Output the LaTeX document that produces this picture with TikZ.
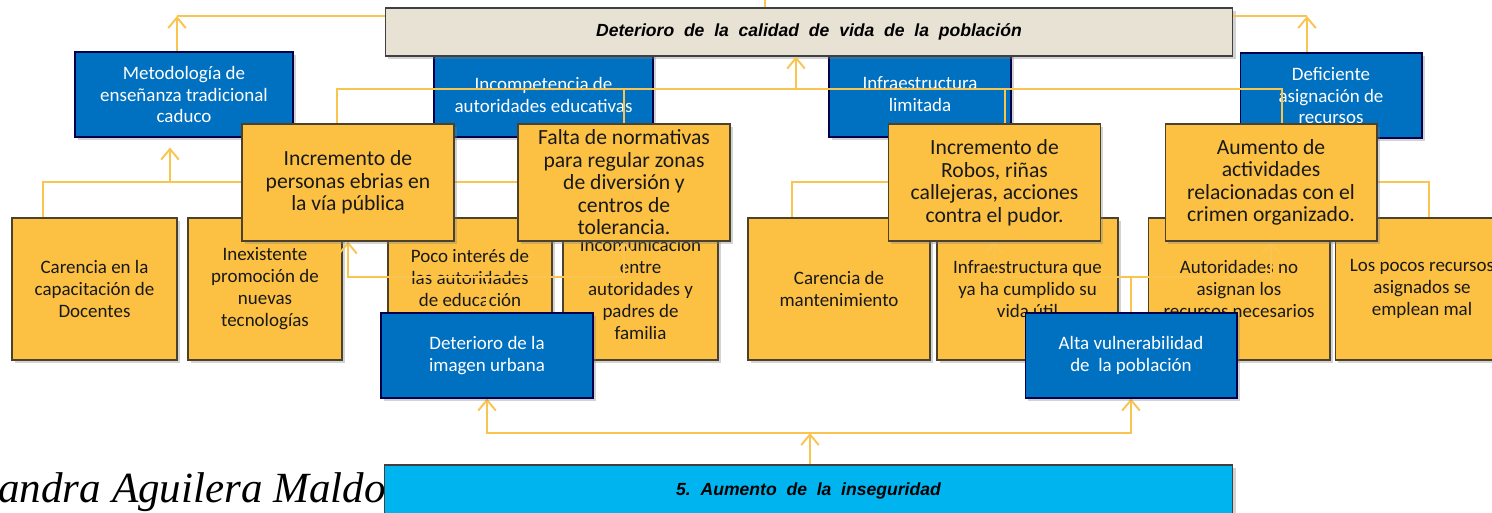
\documentclass[tikz,border=0pt]{standalone}
\usepackage{fontspec}
\setmainfont{Carlito}
\newfontfamily\titlefont{Liberation Sans}
\newfontfamily\firmafont{Liberation Serif}
\usepackage{tikz}
\usetikzlibrary{arrows.meta, positioning, calc, shadows}
\definecolor{boxyellow}{RGB}{252, 193, 66}
\definecolor{boxblue}{RGB}{0, 112, 192}
\definecolor{titlebg}{RGB}{232, 226, 212}
\definecolor{rootcyan}{RGB}{0, 180, 240}
\definecolor{linkcol}{RGB}{250, 196, 80}
\definecolor{edgecol}{RGB}{75, 65, 45}
\pgfdeclarelayer{lower}
\pgfdeclarelayer{wires}
\pgfsetlayers{lower,wires,main}

\begin{document}
\begin{tikzpicture}[
    x=0.02cm, y=-0.02cm,
    box/.style={rectangle, draw=edgecol, line width=0.6pt, inner sep=2pt, align=center,
        drop shadow={shadow xshift=1.5pt, shadow yshift=-1.5pt, opacity=0.35}},
    cause/.style={box, fill=boxyellow, text=black!90, minimum height=2.84cm, font=\fontsize{10.8}{12.5}\selectfont},
    keycause/.style={box, fill=boxyellow, text=black!90, minimum width=4.24cm, minimum height=2.34cm, font=\fontsize{12.3}{12.8}\selectfont},
    effect/.style={box, fill=boxblue, draw=black!70!blue, text=white, minimum height=1.7cm, font=\fontsize{10.8}{12.5}\selectfont},
    headline/.style={box, draw=black!75, minimum height=0.96cm, font=\titlefont\fontsize{10}{12}\selectfont\bfseries\itshape},
    link/.style={draw=linkcol, line width=1.1pt},
    arr/.style={link, -{Straight Barb[length=6pt, width=10pt]}}
]
\useasboundingbox (0,0) rectangle (1492,512);

\begin{pgfonlayer}{lower}
% causas (fila inferior)
\node[cause, minimum width=3.30cm] (capac) at (94.5,289) {Carencia en la\\capacitación de\\Docentes};
\node[cause, minimum width=3.08cm] (promo) at (265,289) {Inexistente\\promoción de\\nuevas\\tecnologías};
\node[cause, minimum width=3.28cm] (interes) at (470,289) {Poco interés de\\las autoridades\\de educación\\~};
\node[cause, minimum width=3.10cm] (comunic) at (640.5,289) {Incomunicación\\entre\\autoridades y\\padres de\\familia};
\node[cause, minimum width=3.64cm] (manten) at (839,289) {Carencia de\\mantenimiento};
\node[cause, minimum width=3.62cm] (vidautil) at (1027.5,289) {Infraestructura que\\ya ha cumplido su\\vida útil};
\node[cause, minimum width=3.64cm] (asignan) at (1239,289) {Autoridades no\\asignan los\\recursos necesarios};
\node[cause, minimum width=3.48cm] (mal) at (1422,289) {Los pocos recursos\\asignados se\\emplean mal};

% efectos
\node[effect, minimum width=4.36cm] (metodo) at (184,94.5) {Metodología de\\enseñanza tradicional\\caduco};
\node[effect, minimum width=4.38cm] (incomp) at (543.5,94.5) {Incompetencia de\\autoridades educativas};
\node[effect, minimum width=3.64cm] (infra) at (920,94.5) {Infraestructura\\limitada};
\node[effect, minimum width=3.64cm] (recur) at (1331,95.5) {Deficiente\\asignación de\\recursos};

\node[headline, fill=titlebg, minimum width=16.96cm] (calidad) at (809,32) {Deterioro\ \ de\ \ la\ \ calidad\ \ de\ \ vida\ \ de\ \ la\ \ población};

\coordinate (jtl) at (177,16);
\coordinate (jtr) at (1307,16);
\coordinate (jup) at (765,0);
\draw[link] (calidad.west |- jtl) -- (jtl);
\draw[arr] (metodo.north -| jtl) -- (jtl);
\draw[link] (calidad.east |- jtr) -- (jtr);
\draw[arr] (recur.north -| jtr) -- (jtr);
\draw[link] (calidad.north -| jup) -- (jup);

\coordinate (jcap) at (43,182);
\coordinate (jmet) at (170,182);
\coordinate (jinc) at (543,182);
\coordinate (jinf) at (920,182);
\coordinate (jrec) at (1331,182);
\draw[link] (capac.north -| jcap) -- (jcap) -- (jmet);
\draw[arr, shorten >=0.2cm] (jmet) -- (metodo.south -| jmet);
\draw[link] (jmet) -| (promo.north);
\draw[arr, shorten >=0.2cm] (jinc) -- (incomp.south);
\draw[link] (jinc) -| ([xshift=-1.2cm]interes.north);
\draw[link] (jinc) -| (comunic.north);
\draw[arr, shorten >=0.2cm] (jinf) -- (infra.south);
\draw[link] (jinf) -| ([xshift=-0.94cm]manten.north);
\draw[link] (jinf) -| (vidautil.north);
\draw[arr, shorten >=0.2cm] (jrec) -- (recur.south);
\draw[link] (jrec) -| (asignan.north);
\draw[link] (jrec) -| ([xshift=0.14cm]mal.north);

\node[anchor=base east, font=\firmafont\itshape\fontsize{24.5}{26}\selectfont] (firma) at (392,502) {andra Aguilera Maldo};
\end{pgfonlayer}

% segundo arbol
\node[keycause] (ebrias) at (348,182.5) {Incremento de\\personas ebrias en\\la vía pública};
\node[keycause] (normativas) at (624,182.5) {Falta de normativas\\para regular zonas\\de diversión y\\centros de\\tolerancia.};
\node[keycause] (robos) at (994.5,182.5) {Incremento de\\Robos, riñas\\callejeras, acciones\\contra el pudor.};
\node[keycause] (aumento) at (1271,182.5) {Aumento de\\actividades\\relacionadas con el\\crimen organizado.};

\node[effect, minimum width=4.24cm] (imagen) at (487,355.5) {Deterioro de la\\imagen urbana};
\node[effect, minimum width=4.24cm] (alta) at (1131,355.5) {Alta vulnerabilidad\\de\ \ la población};

\node[headline, fill=rootcyan, minimum width=16.98cm, minimum height=1.04cm] (inseg) at (808.5,491) {5.\ \ Aumento\ \ de\ \ la\ \ inseguridad};

\begin{pgfonlayer}{wires}
\coordinate (jtop) at (796,89);
\coordinate (jimg) at (487,277);
\coordinate (jalta) at (1131,277);
\coordinate (jins) at (810,433);
\draw[arr] (jtop) -- (calidad.south -| jtop);
\draw[link] (jtop) -| ([xshift=-0.22cm]ebrias.north);
\draw[link] (jtop) -| (normativas.north);
\draw[link] (jtop) -| ([xshift=0.21cm]robos.north);
\draw[link] (jtop) -| ([xshift=0.22cm]aumento.north);

\draw[link] (imagen.north) -- (jimg);
\draw[arr] (jimg) -| (ebrias.south);
\draw[arr] (jimg) -| (normativas.south);
\draw[link] (alta.north) -- (jalta);
\draw[arr] (jalta) -| (robos.south);
\draw[arr] (jalta) -| (aumento.south);

\draw[arr] (inseg.north -| jins) -- (jins);
\draw[arr] (jins) -| (imagen.south);
\draw[arr] (jins) -| (alta.south);
\end{pgfonlayer}

\end{tikzpicture}
\end{document}
